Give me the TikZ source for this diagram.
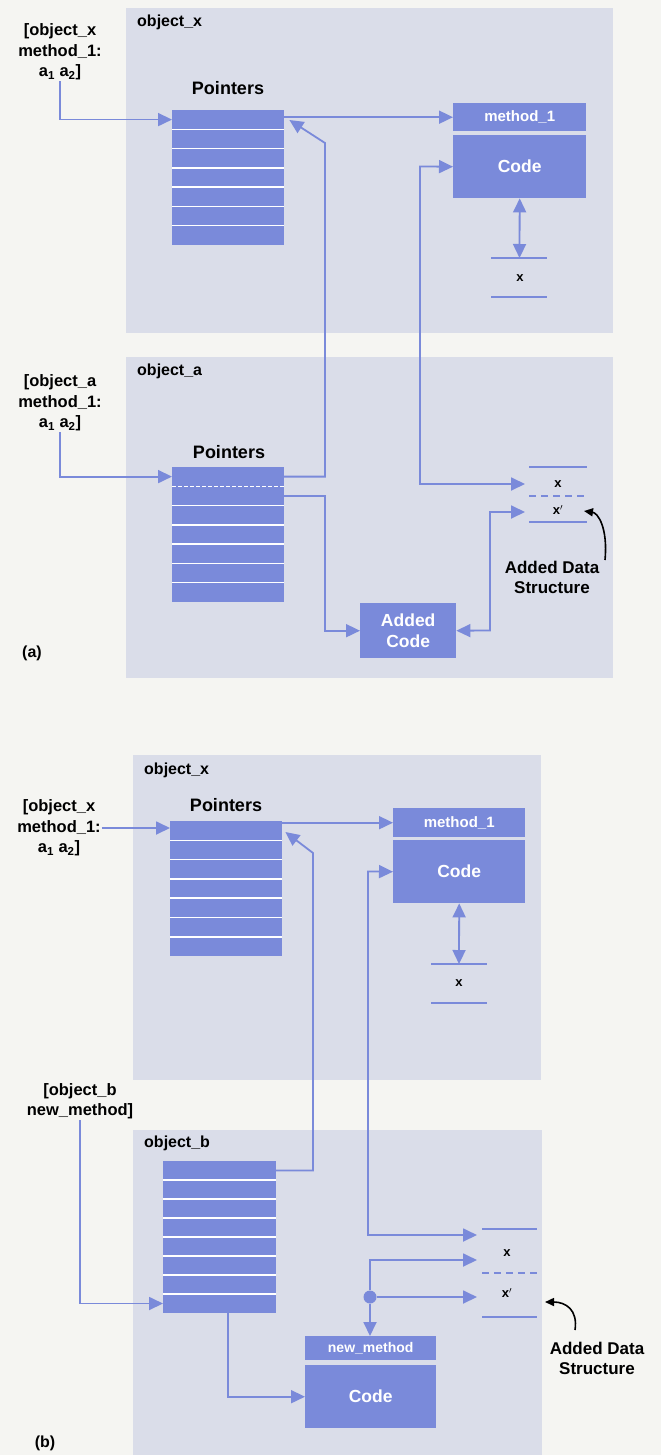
\documentclass[tikz,border=0pt]{standalone}
\usepackage{fontspec}
\setmainfont{Liberation Sans}
\usetikzlibrary{arrows.meta}
\definecolor{pagebg}{RGB}{245,245,242}
\definecolor{panelc}{RGB}{218,221,233}
\definecolor{blu}{RGB}{122,138,218}
\begin{document}
\begin{tikzpicture}[x=1pt,y=-1pt,
  panel/.style={fill=panelc,draw=none,inner sep=0,anchor=north west},
  plabel/.style={anchor=west,inner sep=0,font=\fontsize{16}{18}\selectfont\bfseries},
  ptxt/.style={inner sep=0,font=\fontsize{18}{21}\selectfont\bfseries},
  lbl/.style={align=center,inner sep=1pt,font=\fontsize{16.5}{20.5}\selectfont\bfseries},
  tbl/.style={fill=blu,draw=none,inner sep=0,anchor=north west},
  sep/.style={draw=white,line width=1.5pt},
  hdr/.style={fill=blu,text=white,inner sep=0,anchor=north west,font=\fontsize{15}{18}\selectfont\bfseries},
  codebox/.style={fill=blu,text=white,inner sep=0,anchor=north west,align=center,font=\fontsize{17.5}{20.5}\selectfont\bfseries},
  xtxt/.style={inner sep=0,font=\fontsize{13}{15}\selectfont\bfseries},
  dsline/.style={draw=blu,line width=2pt},
  dsdash/.style={draw=blu,line width=1.6pt,dash pattern=on 7pt off 5pt},
  conn/.style={draw=blu,line width=1.8pt,-{Triangle[length=14pt,width=13pt]}},
  dconn/.style={draw=blu,line width=1.8pt,{Triangle[length=14pt,width=13pt]}-{Triangle[length=14pt,width=13pt]}},
  curv/.style={draw=black,line width=1.6pt,-{Triangle[length=9pt,width=8pt]}},
  tag/.style={inner sep=0,font=\fontsize{16}{19}\selectfont\bfseries},
  ads/.style={align=center,inner sep=0,font=\fontsize{17}{20}\selectfont\bfseries}]
\useasboundingbox (0,0) rectangle (661,1455);
\fill[pagebg] (0,0) rectangle (661,1455);

% ================= (a) =================
\node[panel,minimum width=487,minimum height=325] (PXa) at (126,8) {};
\node[plabel] (tXa) at (137,22) {object\_x};
\node[panel,minimum width=487,minimum height=321] (PAa) at (126,357) {};
\node[plabel] (tAa) at (137,371) {object\_a};

% pointers object_x
\node[ptxt] (ptXa) at (228,88) {Pointers};
\node[tbl,minimum width=112,minimum height=135] (pXa) at (172,110) {};
\foreach \i in {1,...,6} \draw[sep] (172,{110+\i*19.29}) -- ++(112,0);

% pointers object_a
\node[ptxt] (ptAa) at (229,452) {Pointers};
\node[tbl,minimum width=112,minimum height=135] (pAa) at (172,467) {};
\draw[sep,dash pattern=on 4pt off 2pt] (172,486.3) -- ++(112,0);
\foreach \i in {2,...,6} \draw[sep] (172,{467+\i*19.29}) -- ++(112,0);

% message labels
\node[lbl] (lXa) at (60,52) {[object\_x\\method\_1:\\a\textsubscript{1} a\textsubscript{2}]};
\node[lbl] (lAa) at (60,403) {[object\_a\\method\_1:\\a\textsubscript{1} a\textsubscript{2}]};

% method_1 box
\node[hdr,minimum width=133,minimum height=28] (m1hA) at (453,103) {method\_1};
\node[codebox,minimum width=133,minimum height=63] (m1cA) at (453,135) {Code};

% local x of object_x
\draw[dsline] (491,258) -- (547,258);
\draw[dsline] (491,297) -- (547,297);
\coordinate (xAtop) at (519.5,258);
\node[xtxt] (xA) at (520,278) {x};

% added data structure (a)
\draw[dsline] (529,467) -- (587,467);
\draw[dsdash] (529,496) -- (587,496);
\draw[dsline] (529,522) -- (587,522);
\node[xtxt] (dxA) at (558,484) {x};
\node[xtxt] (dxpA) at (558,510) {x$'$};
\coordinate (dsAx) at (525,484);
\coordinate (dsAxp) at (525,512);

% added code
\node[codebox,minimum width=96,minimum height=55] (acA) at (360,603) {Added\\Code};
\node[ads] (adsA) at (552,577) {Added Data\\Structure};

% connectors (a)
\draw[conn] (lXa.south) |- (172,119.6);
\draw[conn] (m1hA.west -| pXa.east) -- (m1hA.west);
\draw[conn] (284,476.6) -- (325,476.6) -- (325,143) -- ([shift={(5,10)}]pXa.north east);
\draw[conn] (lAa.south) |- (172,476.6);
\draw[conn] (284,495.9) -- (325,495.9) |- (acA.west);
\draw[dconn] (m1cA.west) -- (420,166.5) -- (420,484) -- (dsAx);
\draw[dconn] (acA.east) -- (490,630.5) -- (490,512) -- (dsAxp);
\draw[dconn] (m1cA.south) -- (xAtop);
\draw[curv] (605,560) .. controls (608,528) and (598,513) .. (584,511);

\node[tag] (ta) at (32,653) {(a)};

% ================= (b) =================
\node[panel,minimum width=408,minimum height=325] (PXb) at (133,755) {};
\node[plabel] (tXb) at (144,770) {object\_x};
\node[panel,minimum width=409,minimum height=325] (PBb) at (133,1130) {};
\node[plabel] (tBb) at (144,1143) {object\_b};

\node[ptxt] (ptXb) at (226,805) {Pointers};
\node[tbl,minimum width=112,minimum height=135] (pXb) at (170,821) {};
\foreach \i in {1,...,6} \draw[sep] (170,{821+\i*19.29}) -- ++(112,0);

\node[tbl,minimum width=113,minimum height=152] (pBb) at (163,1161) {};
\foreach \i in {1,...,7} \draw[sep] (163,{1161+\i*19}) -- ++(113,0);

\node[lbl] (lXb) at (59,828) {[object\_x\\method\_1:\\a\textsubscript{1} a\textsubscript{2}]};
\node[lbl] (lBb) at (80,1101) {[object\_b\\new\_method]};

\node[hdr,minimum width=132,minimum height=29] (m1hB) at (393,808) {method\_1};
\node[codebox,minimum width=132,minimum height=63] (m1cB) at (393,840) {Code};

\draw[dsline] (431,964) -- (487,964);
\draw[dsline] (431,1003) -- (487,1003);
\coordinate (xBtop) at (459,964);
\node[xtxt] (xB) at (459,983) {x};

\node[hdr,minimum width=131,minimum height=24,font=\fontsize{14}{17}\selectfont\bfseries] (nmhB) at (305,1336) {new\_method};
\node[codebox,minimum width=131,minimum height=63] (nmcB) at (305,1365) {Code};

% added data structure (b)
\draw[dsline] (482,1229) -- (537,1229);
\draw[dsdash] (482,1273) -- (537,1273);
\draw[dsline] (482,1317) -- (537,1317);
\node[xtxt] (dxB) at (507,1253) {x};
\node[xtxt] (dxpB) at (507,1293) {x$'$};
\coordinate (dsBtop) at (477,1235);
\coordinate (dsBx) at (477,1260);
\coordinate (dsBxp) at (477,1297);
\node[ads] (adsB) at (597,1358) {Added Data\\Structure};

\node[circle,fill=blu,inner sep=0,minimum size=13] (dot) at (370,1297) {};

% connectors (b)
\draw[conn] (lXb.east) -- (lXb.east -| pXb.west);
\draw[conn] (m1hB.west -| pXb.east) -- (m1hB.west);
\draw[conn] (276,1170.5) -- (313,1170.5) -- (313,853) -- ([shift={(3,11)}]pXb.north east);
\draw[conn] (lBb.south) |- (163,1303.5);
\draw[conn] (228,1313) |- (nmcB.west);
\draw[dconn] (m1cB.west) -- (368,871.5) -- (368,1235) -- (dsBtop);
\draw[dconn] (m1cB.south) -- (xBtop);
\draw[conn] (dot) -- (dot |- nmhB.north);
\draw[conn] (dot) -- (dsBxp);
\draw[conn] (dot) |- (dsBx);
\draw[curv] (575,1330) .. controls (578,1310) and (566,1302) .. (545,1302);

\node[tag] (tb) at (45,1443) {(b)};
\end{tikzpicture}
\end{document}
